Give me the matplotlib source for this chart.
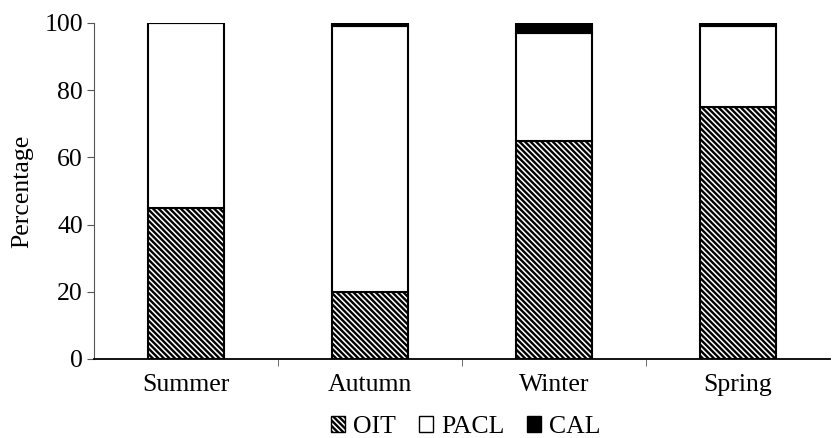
import numpy as np
import matplotlib.pyplot as plt
from matplotlib.patches import Patch

seasons = ['Summer', 'Autumn', 'Winter', 'Spring']
oit = [45, 20, 65, 75]
pacl = [55, 79, 32, 24]
cal = [0, 1, 3, 1]

plt.rcParams['font.family'] = ['Liberation Serif', 'DejaVu Serif']
plt.rcParams['font.size'] = 18.5
plt.rcParams['hatch.linewidth'] = 1.7

fig = plt.figure(figsize=(8.32, 4.38), dpi=100)
ax = fig.add_axes([0.113, 0.1804, 0.8846, 0.7671])

x = np.arange(len(seasons))
w = 0.41
oit_arr = np.array(oit)
pacl_arr = np.array(pacl)
ax.bar(x, oit, w, color='white', edgecolor='black', hatch='\\\\\\\\\\\\', linewidth=1.5)
ax.bar(x, pacl, w, bottom=oit_arr, color='white', edgecolor='black', linewidth=1.5)
ax.bar(x, cal, w, bottom=oit_arr + pacl_arr, color='black', edgecolor='black', linewidth=1.5)

ax.set_xlim(-0.5, 3.5)
ax.set_ylim(0, 100)
ax.set_yticks([0, 20, 40, 60, 80, 100])
ax.set_xticks(x)
ax.set_xticklabels(seasons)
ax.set_xticks([0.5, 1.5, 2.5], minor=True)
ax.tick_params(axis='x', which='major', length=0, pad=11)
ax.tick_params(axis='x', which='minor', length=5, direction='out', color='#555555')
ax.tick_params(axis='y', length=5, direction='out', color='#555555', pad=3)
ax.set_ylabel('Percentage', labelpad=8)

for s in ['top', 'right']:
    ax.spines[s].set_visible(False)
ax.spines['left'].set_color('#555555')
ax.spines['bottom'].set_linewidth(1.3)

handles = [Patch(facecolor='white', edgecolor='black', hatch='\\\\\\\\\\\\'),
           Patch(facecolor='white', edgecolor='black'),
           Patch(facecolor='black', edgecolor='black')]
fig.legend(handles, ['OIT', 'PACL', 'CAL'], loc='center', bbox_to_anchor=(0.56, 0.025),
           ncol=3, frameon=False, handlelength=0.55, handleheight=0.55,
           handletextpad=0.3, columnspacing=0.9, borderpad=0)

fig.savefig('out.png', dpi=100)
